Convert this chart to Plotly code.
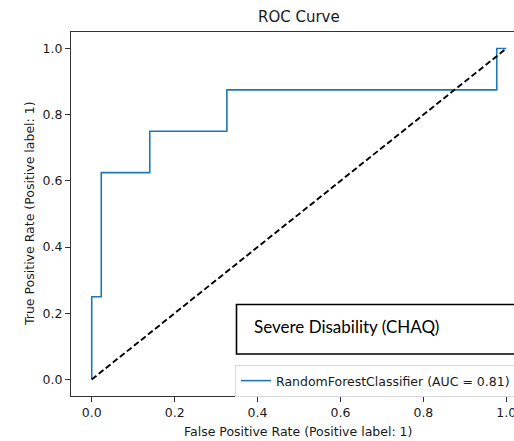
import plotly.graph_objects as go

# ROC curve data (step points)
fpr = [0.0, 0.0, 0.023, 0.023, 0.140, 0.140, 0.326, 0.326, 0.977, 0.977, 1.0]
tpr = [0.0, 0.25, 0.25, 0.625, 0.625, 0.75, 0.75, 0.875, 0.875, 1.0, 1.0]
chance_x = [0.0, 1.0]
chance_y = [0.0, 1.0]
tick_vals = [0.0, 0.2, 0.4, 0.6, 0.8, 1.0]
tick_text = ["0.0", "0.2", "0.4", "0.6", "0.8", "1.0"]
series_name = "RandomForestClassifier (AUC = 0.81)"

W, H = 514, 441
L, T, B = 71, 32, 45
plot_w = W - L
plot_h = H - T - B

def px_x(p):
    return (p - L) / plot_w

def px_y(p):
    return (H - B - p) / plot_h

FONT = "DejaVu Sans"
TXT = "#1a1a1a"

fig = go.Figure()
# trailing non-breaking spaces push the legend's right border past the cropped edge
fig.add_trace(go.Scatter(x=fpr, y=tpr, mode="lines", name=series_name + "\u00a0" * 2,
                         line=dict(color="#1f77b4", width=1.6)))
fig.add_trace(go.Scatter(x=chance_x, y=chance_y, mode="lines", showlegend=False,
                         line=dict(color="black", width=1.9, dash="6px,3px")))

fig.update_layout(
    width=W, height=H,
    margin=dict(l=L, r=0, t=T, b=B, pad=0, autoexpand=False),
    paper_bgcolor="white", plot_bgcolor="white",
    font=dict(family=FONT, size=12.5, color=TXT),
    showlegend=True,
    legend=dict(x=px_x(235), y=px_y(365), xanchor="left", yanchor="top",
                bgcolor="white", bordercolor="#d9d9d9", borderwidth=1,
                font=dict(family=FONT, size=12.5, color=TXT),
                tracegroupgap=0, itemwidth=30),
    xaxis=dict(range=[-0.05, 1.0186], tickvals=tick_vals, ticktext=tick_text,
               showgrid=False, zeroline=False, showline=True, linecolor="#333",
               linewidth=1, mirror=True, ticks="outside", ticklen=5,
               tickcolor="#333", tickfont=dict(size=12.5, color=TXT),
               automargin=False, ticklabeloverflow="allow"),
    yaxis=dict(range=[-0.05, 1.05], tickvals=tick_vals, ticktext=tick_text,
               showgrid=False, zeroline=False, showline=True, linecolor="#333",
               linewidth=1, mirror=False, ticks="outside", ticklen=5,
               tickcolor="#333", tickfont=dict(size=12.5, color=TXT),
               automargin=False),
)

# Severe Disability box
fig.add_shape(type="rect", xref="paper", yref="paper",
              x0=px_x(236.5), x1=1.05, y0=px_y(354), y1=px_y(304.5),
              line=dict(color="black", width=1.6), fillcolor="white", layer="above")
fig.add_annotation(text="Severe Disability (CHAQ)", xref="paper", yref="paper",
                   x=px_x(252), y=px_y(326), xanchor="left", yanchor="middle",
                   showarrow=False, font=dict(family="Lato", size=17, color="black"))

# Title and axis titles
fig.add_annotation(text="ROC Curve", xref="paper", yref="paper",
                   x=px_x(299), y=px_y(17), xanchor="center", yanchor="middle",
                   showarrow=False, font=dict(family=FONT, size=15, color=TXT))
fig.add_annotation(text="False Positive Rate (Positive label: 1)", xref="paper", yref="paper",
                   x=px_x(298), y=px_y(431), xanchor="center", yanchor="middle",
                   showarrow=False, font=dict(family=FONT, size=12.5, color=TXT))
fig.add_annotation(text="True Positive Rate (Positive label: 1)", xref="paper", yref="paper",
                   x=px_x(29), y=px_y(214), xanchor="center", yanchor="middle",
                   textangle=-90, showarrow=False,
                   font=dict(family=FONT, size=12.5, color=TXT))

fig.write_html("out.html")
